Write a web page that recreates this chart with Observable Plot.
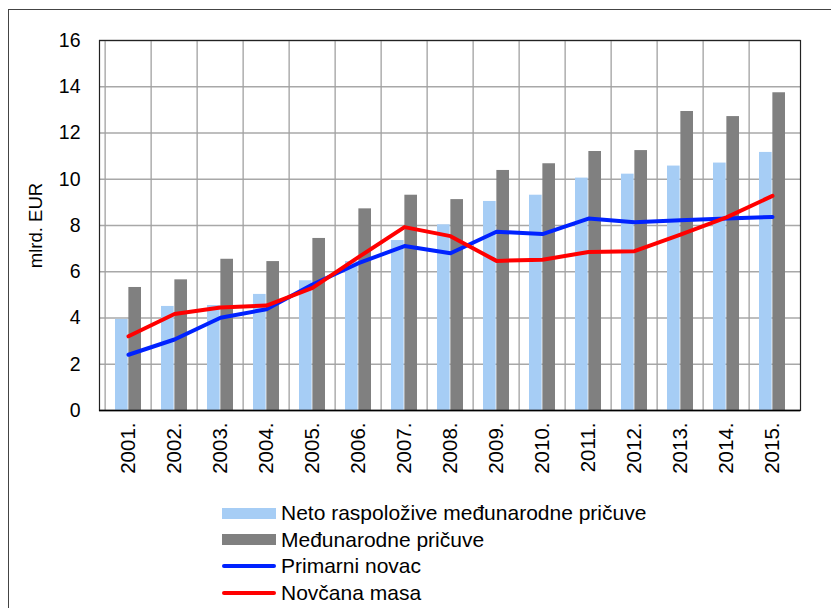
<!DOCTYPE html>
<html>
<head>
<meta charset="utf-8">
<script src="https://cdn.jsdelivr.net/npm/d3@7"></script>
<script src="https://cdn.jsdelivr.net/npm/@observablehq/plot@0.6"></script>
<style>
  html, body { margin: 0; padding: 0; background: #fff; overflow: hidden; }
  body { width: 831px; height: 608px; position: relative; font-family: "Liberation Sans", Arial, sans-serif; }
  #frame { position: absolute; left: 8px; top: 9px; width: 900px; height: 700px; border-left: 1px solid #444; border-top: 1px solid #444; }
  #chart { position: absolute; left: 0; top: 0; }
  #legend { position: absolute; left: 222px; top: 500px; font-size: 21px; color: #000; }
  .row { display: flex; align-items: center; height: 26.5px; }
  .sw { width: 54px; margin-right: 5px; }
  .bar { height: 11px; }
  .ln { height: 4px; border-radius: 2px; }
</style>
</head>
<body>
<div id="frame"></div>
<div id="chart"></div>
<div id="legend"></div>
<script>
const years = ["2001.","2002.","2003.","2004.","2005.","2006.","2007.","2008.","2009.","2010.","2011.","2012.","2013.","2014.","2015."];
const netoPricuve = [3.94, 4.50, 4.54, 5.02, 5.61, 6.44, 7.35, 8.03, 9.04, 9.31, 10.05, 10.22, 10.57, 10.70, 11.16];
const medjunarodnePricuve = [5.32, 5.65, 6.54, 6.44, 7.44, 8.72, 9.31, 9.12, 10.38, 10.67, 11.20, 11.24, 12.93, 12.71, 13.74];
const primarniNovac = [2.41, 3.07, 4.01, 4.38, 5.45, 6.37, 7.11, 6.80, 7.73, 7.63, 8.30, 8.14, 8.23, 8.30, 8.37];
const novcanaMasa = [3.21, 4.17, 4.45, 4.54, 5.30, 6.63, 7.93, 7.54, 6.47, 6.52, 6.85, 6.89, 7.61, 8.35, 9.28];
const yTicks = [0, 2, 4, 6, 8, 10, 12, 14, 16];
const seriesNames = ["Neto raspoložive međunarodne pričuve", "Međunarodne pričuve", "Primarni novac", "Novčana masa"];
const colors = ["#a6cdf5", "#808080", "#0022ff", "#ff0000"];

const rows = years.map((y, i) => ({
  year: y,
  neto: netoPricuve[i],
  med: medjunarodnePricuve[i],
  prim: primarniNovac[i],
  nov: novcanaMasa[i]
}));

const W = 831, H = 490;
const mL = 99, mR = 31, mT = 40, mB = 80;
const bw = (W - mL - mR) / years.length;
const gap = 10;

const chart = Plot.plot({
  width: W,
  height: H,
  marginLeft: mL,
  marginRight: mR,
  marginTop: mT,
  marginBottom: mB,
  style: { fontFamily: "Liberation Sans, Arial, sans-serif", background: "transparent", overflow: "visible" },
  x: { type: "band", domain: years, padding: 0 },
  y: { domain: [0, 16] },
  marks: [
    Plot.ruleY(yTicks, { stroke: "#a8a8a8", strokeWidth: 1.3 }),
    Plot.ruleX(years, { x: d => d, dx: -bw / 2, stroke: "#a0a0a0", strokeWidth: 1.3 }),
    Plot.barY(rows, { x: "year", y: "neto", fill: colors[0], insetLeft: gap, insetRight: bw / 2 }),
    Plot.barY(rows, { x: "year", y: "med", fill: colors[1], insetLeft: bw / 2, insetRight: gap }),
    Plot.line(rows, { x: "year", y: "prim", stroke: colors[2], strokeWidth: 4, strokeLinecap: "round", strokeLinejoin: "round" }),
    Plot.line(rows, { x: "year", y: "nov", stroke: colors[3], strokeWidth: 4, strokeLinecap: "round", strokeLinejoin: "round" }),
    Plot.frame({ stroke: "#222", strokeWidth: 1.2 }),
    Plot.ruleY([0], { stroke: "#000", strokeWidth: 1.5 }),
    Plot.axisY(yTicks, { tickSize: 0, tickPadding: 19, fontSize: 19.5, fill: "#000", label: null }),
    Plot.axisY({ tickSize: 0, ticks: [], fontSize: 18.5, fill: "#000", label: "mlrd. EUR", labelAnchor: "center", labelArrow: "none", labelOffset: 71 }),
    Plot.axisX({ tickSize: 0, tickPadding: 12, tickRotate: -90, fontSize: 20.5, fill: "#000", label: null })
  ]
});
document.getElementById("chart").appendChild(chart);

const legend = document.getElementById("legend");
seriesNames.forEach((name, i) => {
  const row = document.createElement("div");
  row.className = "row";
  const sw = document.createElement("div");
  sw.className = "sw " + (i < 2 ? "bar" : "ln");
  sw.style.background = colors[i];
  const t = document.createElement("span");
  t.textContent = name;
  row.appendChild(sw);
  row.appendChild(t);
  legend.appendChild(row);
});
</script>
</body>
</html>
